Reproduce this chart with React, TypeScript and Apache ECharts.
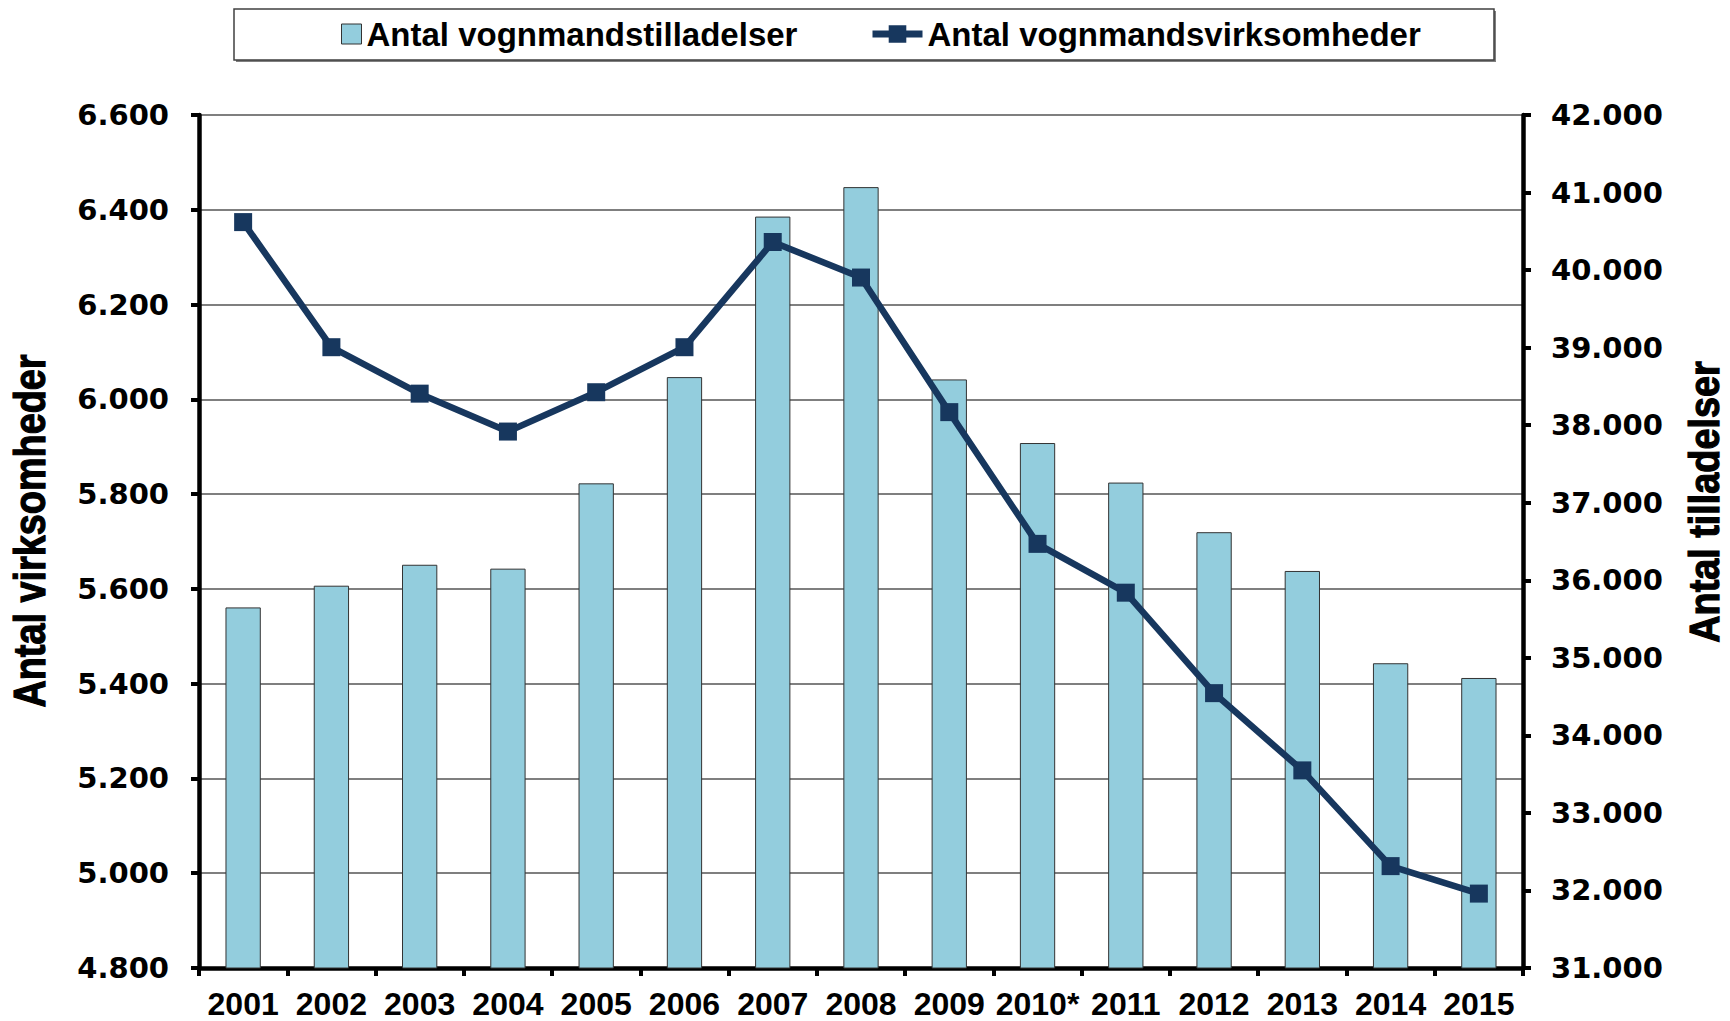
import React, { useEffect, useRef } from "react";
import * as echarts from "echarts";

const years = ["2001", "2002", "2003", "2004", "2005", "2006", "2007", "2008", "2009", "2010*", "2011", "2012", "2013", "2014", "2015"];
const tilladelser = [35650, 35930, 36200, 36150, 37250, 38620, 40690, 41070, 38590, 37770, 37260, 36620, 36120, 34930, 34740];
const virksomheder = [6374, 6110, 6012, 5932, 6015, 6110, 6332, 6257, 5973, 5695, 5592, 5380, 5217, 5015, 4957];

const barName = "Antal vognmandstilladelser";
const lineName = "Antal vognmandsvirksomheder";
const leftTitle = "Antal virksomheder";
const rightTitle = "Antal tilladelser";

const ARIAL = "'Liberation Sans', Arial, sans-serif";
const WIDE = "'DejaVu Sans', Verdana, sans-serif";

const fmt = (v: number) => String(v).replace(/\B(?=(\d{3})+(?!\d))/g, ".");

export default function App() {
  const ref = useRef<HTMLDivElement>(null);
  useEffect(() => {
    if (!ref.current) return;
    const chart = echarts.init(ref.current, undefined, { renderer: "svg" });
    const axisLine = { show: true, onZero: false, lineStyle: { color: "#000", width: 4.5 } };
    const axisTick = { show: true, length: 8, lineStyle: { color: "#000", width: 4 } };
    const legendText = { fontFamily: ARIAL, fontWeight: "bold", fontSize: 33, color: "#000", lineHeight: 36 };
    chart.setOption({
      animation: false,
      backgroundColor: "#fff",
      grid: { left: 199, right: 207, top: 115, bottom: 53, containLabel: false },
      graphic: [
        { type: "rect", z: 0, shape: { x: 236, y: 11, width: 1260, height: 51 }, style: { fill: "#7f7f7f" } },
        { type: "rect", z: 1, shape: { x: 234, y: 9, width: 1260, height: 51 }, style: { fill: "#fff", stroke: "#404040", lineWidth: 1.5 } },
        {
          type: "text", z: 5, x: 30, y: 531, rotation: Math.PI / 2, scaleX: 0.86,
          style: { text: leftTitle, fontFamily: ARIAL, fontWeight: "bold", fontSize: 44, fill: "#000", stroke: "#000", lineWidth: 1.2, align: "center", verticalAlign: "middle" },
        },
        {
          type: "text", z: 5, x: 1704, y: 502, rotation: Math.PI / 2, scaleX: 0.9,
          style: { text: rightTitle, fontFamily: ARIAL, fontWeight: "bold", fontSize: 42, fill: "#000", stroke: "#000", lineWidth: 1.2, align: "center", verticalAlign: "middle" },
        },
      ],
      legend: [
        {
          z: 10, left: 336, top: 11, data: [{ name: barName, icon: "rect" }],
          itemWidth: 20, itemHeight: 20, itemStyle: { borderColor: "#333", borderWidth: 1 },
          textStyle: legendText,
          selectedMode: false,
        },
        {
          z: 10, left: 864, top: 11,
          data: [{ name: lineName, lineStyle: { width: 7 } }],
          itemWidth: 50, itemHeight: 22,
          textStyle: legendText,
          selectedMode: false,
        },
      ],
      xAxis: {
        type: "category",
        data: years,
        boundaryGap: true,
        axisLine,
        axisTick: { ...axisTick, alignWithLabel: false },
        axisLabel: { interval: 0, margin: 20, color: "#000", fontFamily: ARIAL, fontWeight: "bold", fontSize: 32, lineHeight: 32 },
        splitLine: { show: false },
      },
      yAxis: [
        {
          type: "value", position: "left", min: 4800, max: 6600, interval: 200,
          axisLine, axisTick,
          axisLabel: { margin: 30, color: "#000", fontFamily: WIDE, fontWeight: "bold", fontSize: 29, formatter: fmt },
          splitLine: { show: true, lineStyle: { color: "#555", width: 1.5 } },
        },
        {
          type: "value", position: "right", min: 31000, max: 42000, interval: 1000,
          axisLine, axisTick,
          axisLabel: { margin: 28, color: "#000", fontFamily: WIDE, fontWeight: "bold", fontSize: 29, formatter: fmt },
          splitLine: { show: false },
        },
      ],
      series: [
        {
          name: barName, type: "bar", yAxisIndex: 1, data: tilladelser, barWidth: "40%",
          itemStyle: { color: "#93CDDD", borderColor: "#333", borderWidth: 1 },
        },
        {
          name: lineName, type: "line", yAxisIndex: 0, data: virksomheder,
          symbol: "rect", symbolSize: 18,
          lineStyle: { color: "#17375E", width: 6.5 },
          itemStyle: { color: "#17375E" },
        },
      ],
    });
    return () => chart.dispose();
  }, []);
  return <div ref={ref} style={{ position: "fixed", left: 0, top: 0, width: 1730, height: 1021 }} />;
}
